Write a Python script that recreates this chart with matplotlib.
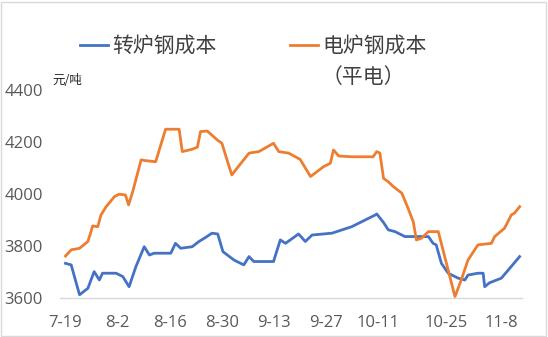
import matplotlib
import matplotlib.pyplot as plt
from matplotlib.patches import Rectangle

matplotlib.use('Agg')

plt.rcParams['font.family'] = ['Noto Sans CJK SC', 'DejaVu Sans']

# trading-day index and cost values (vertices of each line)
bof_x = [0, 1.1, 1.9, 2.7, 4.3, 5.5, 6.5, 7.1, 9.7, 11.0, 12.2, 13.5, 15.1, 16.1, 17.0,
         20.2, 21.1, 22.1, 24.3, 25.6, 26.9, 28.1, 29.2, 30.2, 32.3, 34.2, 35.2, 36.1,
         39.9, 41.2, 42.2, 44.7, 46.0, 47.3, 51.1, 54.9, 59.4, 59.7, 61.0, 61.9, 63.2,
         65.1, 69.6, 70.5, 71.1, 72.1, 73.4, 75.3, 76.6, 77.2, 79.1, 80.1, 80.4, 81.3,
         83.6, 87.1]
bof_cost = [3733, 3727, 3669, 3612, 3637, 3701, 3669, 3695, 3695, 3682, 3643, 3720, 3797,
            3765, 3772, 3772, 3810, 3791, 3797, 3817, 3833, 3849, 3846, 3778, 3746, 3727,
            3759, 3740, 3740, 3823, 3810, 3846, 3817, 3842, 3849, 3874, 3919, 3923, 3890,
            3862, 3855, 3836, 3836, 3810, 3804, 3733, 3695, 3676, 3669, 3688, 3695, 3695,
            3643, 3658, 3676, 3759]

eaf_x = [0, 1.1, 2.7, 4.3, 4.9, 5.2, 6.2, 6.8, 7.8, 9.4, 10.3, 11.5, 12.1, 12.9, 14.5,
         15.4, 17.3, 19.2, 21.8, 22.4, 24.3, 25.3, 25.9, 27.2, 29.1, 30.0, 31.0, 31.9,
         32.9, 35.2, 37.1, 39.9, 40.9, 42.8, 45.0, 47.0, 49.5, 50.8, 51.4, 52.4, 54.9,
         59.0, 59.7, 60.3, 61.0, 61.9, 62.9, 64.5, 65.7, 66.7, 67.3, 68.3, 69.6, 71.5,
         74.7, 75.9, 77.2, 79.1, 81.7, 82.3, 84.2, 85.5, 86.1, 87.1]
eaf_cost = [3761, 3785, 3791, 3817, 3855, 3877, 3874, 3919, 3951, 3990, 3999, 3996, 3958,
            4009, 4131, 4128, 4124, 4249, 4249, 4163, 4172, 4180, 4240, 4242, 4208, 4195,
            4130, 4073, 4099, 4157, 4163, 4195, 4163, 4157, 4133, 4067, 4105, 4118, 4169,
            4146, 4143, 4143, 4163, 4157, 4060, 4047, 4028, 4003, 3945, 3893, 3823, 3830,
            3855, 3855, 3605, 3669, 3746, 3804, 3810, 3836, 3868, 3919, 3926, 3951]

tick_pos = [0, 10, 20, 30, 40, 50, 60, 73, 83.5]
tick_labels = ['7-19', '8-2', '8-16', '8-30', '9-13', '9-27', '10-11', '10-25', '11-8']
y_ticks = [3600, 3800, 4000, 4200, 4400]

blue = '#4472C4'
orange = '#ED7D31'
gray = '#595959'

fig = plt.figure(figsize=(5.48, 3.37), dpi=100)
ax = fig.add_axes([0.109, 0.116, 0.844, 0.617])

ax.plot(bof_x, bof_cost, color=blue, linewidth=2.0, label='转炉钢成本')
ax.plot(eaf_x, eaf_cost, color=orange, linewidth=2.0, label='电炉钢成本')

ax.set_xlim(-1.1, 87.6)
ax.set_ylim(3600, 4400)
ax.set_xticks(tick_pos)
ax.set_xticklabels(tick_labels, family='Open Sans', fontsize=12, color=gray)
ax.set_yticks(y_ticks)
ax.set_yticklabels([str(v) for v in y_ticks], family='Open Sans', fontsize=12, color=gray)
ax.tick_params(axis='x', length=0, pad=12)
ax.tick_params(axis='y', length=0, pad=12)
for side in ['left', 'top', 'right']:
    ax.spines[side].set_visible(False)
ax.spines['bottom'].set_color('#D9D9D9')
ax.spines['bottom'].set_linewidth(1.0)

leg = fig.legend(loc='center left', bbox_to_anchor=(0.112, 1 - 46 / 337), ncol=2, frameon=False,
                 fontsize=15, handlelength=1.35, handletextpad=0.2, columnspacing=3.5)
for text in leg.get_texts():
    text.set_color('#404040')

# second line of the orange legend label, under its first line
fig.canvas.draw()
bb = leg.get_texts()[1].get_window_extent()
fig.text(bb.x0 / fig.bbox.width, 1 - 77 / 337, '（平电）', fontsize=15, color='#404040',
         va='center', ha='left')

fig.text(52 / 548, 1 - 81 / 337, '元/吨', fontsize=9, color='#262626', va='center')

# light border around the chart area
fig.patches.append(Rectangle((0.002, 0.003), 0.995, 0.992, transform=fig.transFigure,
                             fill=False, edgecolor='#D9D9D9', linewidth=1.0))

plt.savefig('out.png', dpi=100)
plt.close()
